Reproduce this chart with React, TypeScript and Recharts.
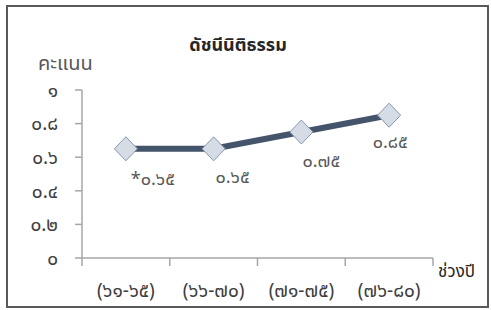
import { LineChart, Line, XAxis, YAxis, LabelList } from 'recharts';

const categories = ['(๖๑-๖๕)', '(๖๖-๗๐)', '(๗๑-๗๕)', '(๗๖-๘๐)'];
const scores = [0.65, 0.65, 0.75, 0.85];
const pointLabels = ['*๐.๖๕', '๐.๖๕', '๐.๗๕', '๐.๘๕'];
const yTicks = [0, 0.2, 0.4, 0.6, 0.8, 1];
const yTickLabels = ['๐', '๐.๒', '๐.๔', '๐.๖', '๐.๘', '๑'];

const W = 491;
const H = 310;
const MARGIN = { top: 90, right: 58, bottom: 12, left: 42 };
const Y_AXIS_W = 40;
const PLOT_W = W - MARGIN.left - MARGIN.right - Y_AXIS_W;
const HALF_BAND = PLOT_W / categories.length / 2;

// label nudges, roughly where Excel put them
const LABEL_DX = [27, 19, 20, 1];
const LABEL_DY = [31, 29, 30, 28];

const FONT = "Tahoma, 'Noto Sans Thai', 'DejaVu Sans', sans-serif";
const AXIS = '#a6a6a6';

const data = categories.map((c, i) => ({ name: c, value: scores[i], label: pointLabels[i] }));

function Diamond(props: any) {
  const { cx, cy } = props;
  if (cx == null || cy == null) return null;
  return (
    <polygon
      points={`${cx - 11.5},${cy} ${cx},${cy - 12} ${cx + 11.5},${cy} ${cx},${cy + 12}`}
      fill="#d6dce5"
      stroke="#8497b0"
      strokeWidth={1}
    />
  );
}

function XTick(props: any) {
  const { x, y, payload, index } = props;
  const axisY = y;
  return (
    <g>
      {index === 0 && <line x1={x - HALF_BAND} x2={x - HALF_BAND} y1={axisY} y2={axisY + 8} stroke={AXIS} strokeWidth={1.5} />}
      <line x1={x + HALF_BAND} x2={x + HALF_BAND} y1={axisY} y2={axisY + 8} stroke={AXIS} strokeWidth={1.5} />
      <text x={x} y={axisY + 34} textAnchor="middle" dominantBaseline="middle" fontSize={19} fill="#404040" fontFamily={FONT}>
        {payload.value}
      </text>
    </g>
  );
}

function PointLabel(props: any) {
  const { x, y, index, value } = props;
  return (
    <text x={x + LABEL_DX[index]} y={y + LABEL_DY[index]} textAnchor="middle" dominantBaseline="middle" fontSize={18} fill="#595959" fontFamily={FONT}>
      {value}
    </text>
  );
}

export default function App() {
  return (
    <div style={{ position: 'absolute', left: 0, top: 0, width: W, height: H, background: '#fff', fontFamily: FONT }}>
      <div style={{ position: 'absolute', left: 6, top: 5, width: 483, height: 303, border: '2px solid #595959', boxSizing: 'border-box' }} />
      <div style={{ position: 'absolute', left: 0, width: 476, top: 32, textAlign: 'center', fontSize: 18, fontWeight: 'bold', color: '#262626' }}>
        ดัชนีนิติธรรม
      </div>
      <div style={{ position: 'absolute', left: 38, top: 49, fontSize: 20, color: '#595959' }}>คะแนน</div>
      <div style={{ position: 'absolute', left: 438, top: 259, fontSize: 17, color: '#262626' }}>ช่วงปี</div>
      <LineChart width={W} height={H} data={data} margin={MARGIN} style={{ position: 'absolute', left: 0, top: 0 }}>
        <XAxis
          dataKey="name"
          scale="band"
          height={40}
          stroke={AXIS}
          strokeWidth={1.5}
          tickLine={false}
          tick={<XTick />}
          tickSize={0}
          tickMargin={0}
          interval={0}
        />
        <YAxis
          domain={[0, 1]}
          ticks={yTicks}
          width={Y_AXIS_W}
          stroke={AXIS}
          strokeWidth={1.5}
          tickSize={7}
          tickMargin={17}
          interval={0}
          tickFormatter={(v: number) => yTickLabels[yTicks.indexOf(v)]}
          tick={{ fontSize: 19, fill: '#404040', fontFamily: FONT }}
        />
        <Line
          dataKey="value"
          stroke="#44546a"
          strokeWidth={6}
          dot={<Diamond />}
          activeDot={false}
          isAnimationActive={false}
        >
          <LabelList dataKey="label" content={<PointLabel />} />
        </Line>
      </LineChart>
    </div>
  );
}
